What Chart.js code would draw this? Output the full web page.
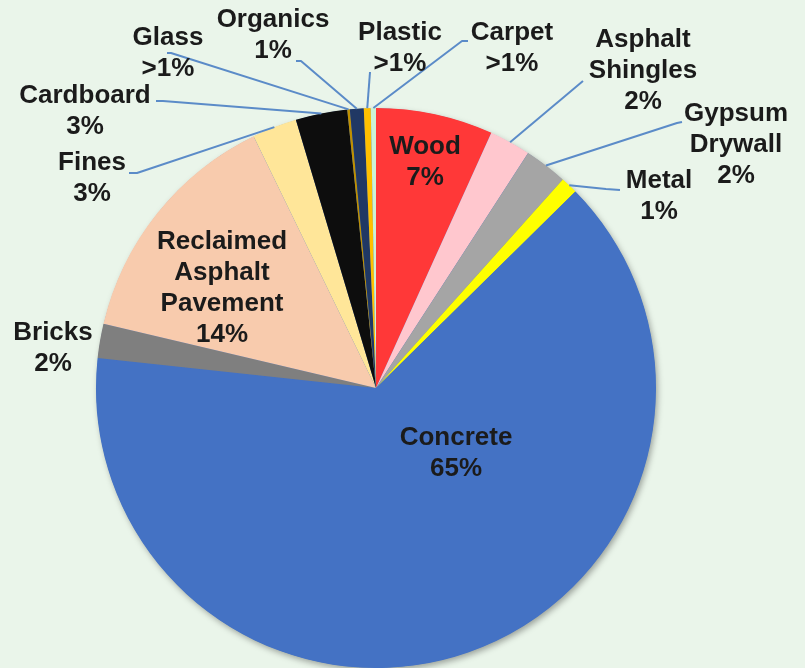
<!DOCTYPE html>
<html>
<head>
<meta charset="utf-8">
<script src="https://cdn.jsdelivr.net/npm/chart.js@4/dist/chart.umd.min.js"></script>
<style>
  html, body { margin: 0; padding: 0; background: #EAF5EA; overflow: hidden; }
  #wrap { width: 805px; height: 668px; }
</style>
</head>
<body>
<div id="wrap"><canvas id="pie" width="805" height="668"></canvas></div>
<script>
// Composition of C&D debris by material (percent of total)
const materials = ['Wood', 'Asphalt Shingles', 'Gypsum Drywall', 'Metal', 'Concrete', 'Bricks',
  'Reclaimed Asphalt Pavement', 'Fines', 'Cardboard', 'Glass', 'Organics', 'Plastic', 'Carpet'];
const shares = [6.8, 2.4, 2.5, 1.0, 64.5, 2.0, 14.2, 2.6, 3.0, 0.15, 0.8, 0.4, 0.3];
const shareText = ['7%', '2%', '2%', '1%', '65%', '2%', '14%', '3%', '3%', '>1%', '1%', '>1%', '>1%'];
const sliceColors = ['#FF3838', '#FFC7CE', '#A5A5A5', '#FFFF00', '#4472C4', '#7F7F7F',
  '#F8CBAD', '#FFE699', '#0D0D0D', '#BF9000', '#203864', '#FFC000', '#CCF2D6'];

// Where each label sits (centre of first text line) and the start of its leader line
const labelLayout = [
  { x: 425, y: 147 },                                   // Wood (inside)
  { x: 643, y: 40,  lead: [[583, 81]] },                // Asphalt Shingles
  { x: 736, y: 114, lead: [[682, 122], [677, 123]] },   // Gypsum Drywall
  { x: 659, y: 181, lead: [[620, 190], [606, 189]] },   // Metal
  { x: 456, y: 438 },                                   // Concrete (inside)
  { x: 53,  y: 333 },                                   // Bricks
  { x: 222, y: 242 },                                   // Reclaimed Asphalt Pavement
  { x: 92,  y: 163, lead: [[129, 173], [137, 173]] },   // Fines
  { x: 85,  y: 96,  lead: [[156, 101], [163, 101]] },   // Cardboard
  { x: 168, y: 38,  lead: [[167, 53], [171, 53]] },     // Glass
  { x: 273, y: 20,  lead: [[296, 61], [301, 61]] },     // Organics
  { x: 400, y: 33,  lead: [[370, 72]] },                // Plastic
  { x: 512, y: 33,  lead: [[468, 41], [462, 41]] }      // Carpet
];

const FONT = 'bold 26px "Liberation Sans", Arial, sans-serif';
const LINE_H = 31;

const pieShadow = {
  id: 'pieShadow',
  beforeDatasetsDraw(chart) {
    const arc = chart.getDatasetMeta(0).data[0];
    if (!arc) return;
    const ctx = chart.ctx;
    ctx.save();
    ctx.shadowColor = 'rgba(0,0,0,0.35)';
    ctx.shadowBlur = 6;
    ctx.shadowOffsetX = 2;
    ctx.shadowOffsetY = 3;
    ctx.fillStyle = '#4472C4';
    ctx.beginPath();
    ctx.arc(arc.x, arc.y, arc.outerRadius - 0.5, 0, Math.PI * 2);
    ctx.fill();
    ctx.restore();
  }
};

const sliceLabels = {
  id: 'sliceLabels',
  afterDatasetsDraw(chart) {
    const ctx = chart.ctx;
    const arcs = chart.getDatasetMeta(0).data;
    ctx.save();
    // leader lines from label to slice rim
    ctx.strokeStyle = '#5B8BC8';
    ctx.lineWidth = 2;
    ctx.lineJoin = 'round';
    arcs.forEach((arc, i) => {
      const lay = labelLayout[i];
      if (!lay.lead) return;
      const mid = (arc.startAngle + arc.endAngle) / 2;
      const ex = arc.x + Math.cos(mid) * arc.outerRadius;
      const ey = arc.y + Math.sin(mid) * arc.outerRadius;
      ctx.beginPath();
      ctx.moveTo(lay.lead[0][0], lay.lead[0][1]);
      for (let k = 1; k < lay.lead.length; k++) ctx.lineTo(lay.lead[k][0], lay.lead[k][1]);
      ctx.lineTo(ex, ey);
      ctx.stroke();
    });
    // label text
    ctx.font = FONT;
    ctx.fillStyle = '#1B1B1B';
    ctx.textAlign = 'center';
    ctx.textBaseline = 'middle';
    materials.forEach((name, i) => {
      const lay = labelLayout[i];
      const lines = name.split(' ').concat([shareText[i]]);
      lines.forEach((ln, k) => ctx.fillText(ln, lay.x, lay.y + k * LINE_H));
    });
    ctx.restore();
  }
};

new Chart(document.getElementById('pie'), {
  type: 'pie',
  data: {
    labels: materials,
    datasets: [{
      data: shares,
      backgroundColor: sliceColors,
      borderWidth: 0
    }]
  },
  options: {
    responsive: false,
    devicePixelRatio: 1,
    animation: false,
    layout: { padding: { left: 96, right: 149, top: 108, bottom: 0 } },
    plugins: {
      legend: { display: false },
      tooltip: { enabled: false }
    }
  },
  plugins: [pieShadow, sliceLabels]
});
</script>
</body>
</html>
